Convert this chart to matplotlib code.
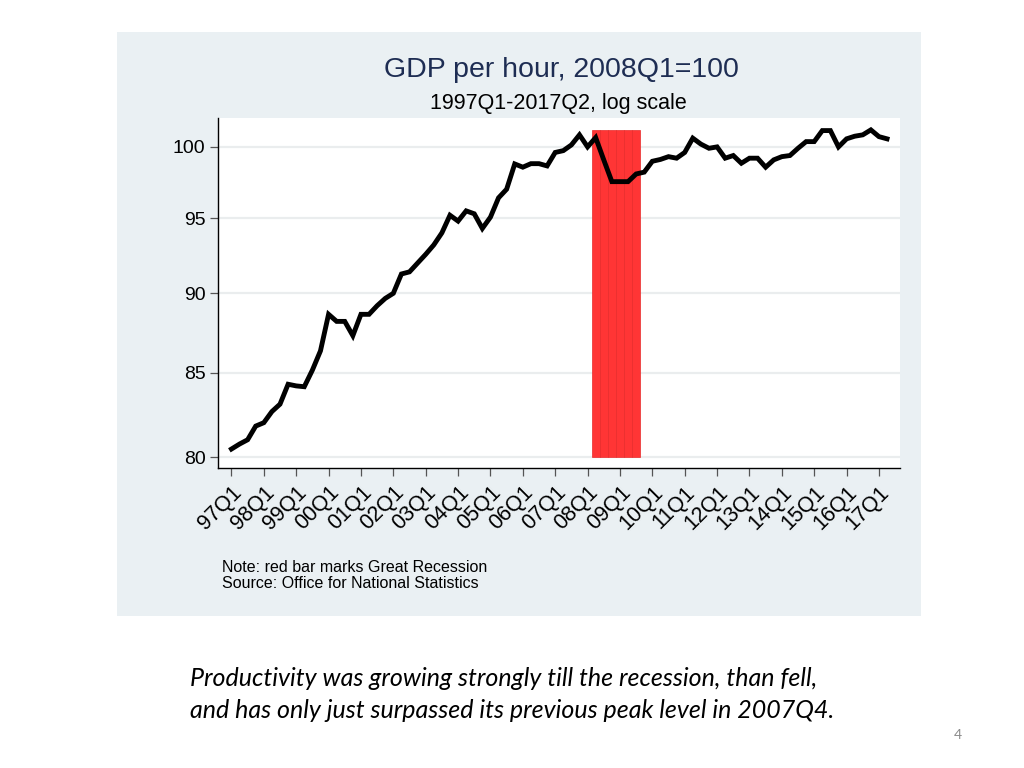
import numpy as np
import matplotlib.pyplot as plt
from matplotlib.patches import Rectangle

# GDP per hour, 2008Q1=100, kwartalnie 1997Q1-2017Q2
gdp_hour = [80.46, 80.75, 81.0, 81.8, 82.0, 82.66, 83.1, 84.3, 84.2, 84.15,
            85.16, 86.35, 88.65, 88.2, 88.2, 87.3, 88.65, 88.65, 89.2, 89.67,
            90.0, 91.26, 91.4, 91.98, 92.56, 93.19, 94.0, 95.2, 94.8, 95.5,
            95.3, 94.3, 95.07, 96.4, 97.0, 98.78, 98.55, 98.8, 98.8, 98.64,
            99.6, 99.73, 100.14, 100.87, 100.0, 100.67, 99.07, 97.53, 97.53, 97.53,
            98.07, 98.2, 98.97, 99.1, 99.3, 99.19, 99.6, 100.63, 100.2, 99.9,
            100.0, 99.19, 99.38, 98.83, 99.19, 99.19, 98.55, 99.07, 99.3, 99.38,
            99.9, 100.38, 100.38, 101.18, 101.18, 100.0, 100.58, 100.77, 100.87, 101.23,
            100.74, 100.58]

# recesja: 2008Q2-2009Q3 (indeksy kwartalow)
recession_q = [45, 46, 47, 48, 49, 50]
recession_top = 101.2

year_ticks = [0, 4, 8, 12, 16, 20, 24, 28, 32, 36, 40, 44, 48, 52, 56, 60, 64, 68, 72, 76, 80]
year_labels = ['97Q1', '98Q1', '99Q1', '00Q1', '01Q1', '02Q1', '03Q1', '04Q1', '05Q1', '06Q1',
               '07Q1', '08Q1', '09Q1', '10Q1', '11Q1', '12Q1', '13Q1', '14Q1', '15Q1', '16Q1', '17Q1']
y_ticks = [80, 85, 90, 95, 100]

plt.rcParams['font.family'] = ['Liberation Sans', 'DejaVu Sans']

fig = plt.figure(figsize=(10.24, 7.68), dpi=100)
fig.patch.set_facecolor('white')

# tlo panelu
fig.patches.append(Rectangle((117/1024, 1-616/768), (921-117)/1024, (616-32)/768,
                             transform=fig.transFigure, facecolor='#EAF0F3', edgecolor='none', zorder=-10))

ax = fig.add_axes([218/1024, 1-468/768, (900-218)/1024, (468-118)/768])
ax.set_zorder(5)
ax.set_facecolor('white')
ax.set_yscale('log')

quarters = np.arange(len(gdp_hour))
ax.bar(recession_q, [recession_top - 80]*len(recession_q), bottom=80, width=1.0,
       color='#FF3535', edgecolor='#E82A2A', linewidth=0.5, zorder=2)
ax.plot(quarters, gdp_hour, color='black', linewidth=3.5, solid_joinstyle='miter', zorder=3)

ax.set_xlim(-1.66, 82.6)
ax.set_ylim(79.37, 102.1)

ax.set_yticks(y_ticks)
ax.set_yticklabels([str(v) for v in y_ticks])
ax.yaxis.set_minor_locator(plt.NullLocator())
ax.set_xticks(year_ticks)
ax.set_xticklabels(year_labels, rotation=45, ha='right', rotation_mode='anchor')
ax.tick_params(axis='both', labelsize=14, length=6, width=0.9, color='#555555')
ax.tick_params(axis='x', labelsize=15.5, pad=4)
ax.tick_params(axis='y', pad=3)

ax.grid(True, axis='y', color='#EAEDEE', linewidth=1.6, zorder=1)
ax.set_axisbelow(True)
for s in ['top', 'right']:
    ax.spines[s].set_visible(False)
for s in ['left', 'bottom']:
    ax.spines[s].set_linewidth(1.0)

fig.text(561/1024, 1-70/768, 'GDP per hour, 2008Q1=100', ha='center', va='center',
         fontsize=20.5, color='#1E2D53')
fig.text(558/1024, 1-103/768, '1997Q1-2017Q2, log scale', ha='center', va='center',
         fontsize=15.5, color='black')

fig.text(222/1024, 1-567/768, 'Note: red bar marks Great Recession', ha='left', va='center', fontsize=11.5)
fig.text(222/1024, 1-583/768, 'Source: Office for National Statistics', ha='left', va='center', fontsize=11.5)

fig.text(190/1024, 1-679/768, 'Productivity was growing strongly till the recession, than fell,',
         ha='left', va='center', fontsize=18, style='italic', family='Lato')
fig.text(190/1024, 1-710/768, 'and has only just surpassed its previous peak level in 2007Q4.',
         ha='left', va='center', fontsize=18, style='italic', family='Lato')
fig.text(958/1024, 1-735/768, '4', ha='center', va='center', fontsize=10, color='#8C8C8C', family='Lato')

plt.savefig('out.png', dpi=100)
